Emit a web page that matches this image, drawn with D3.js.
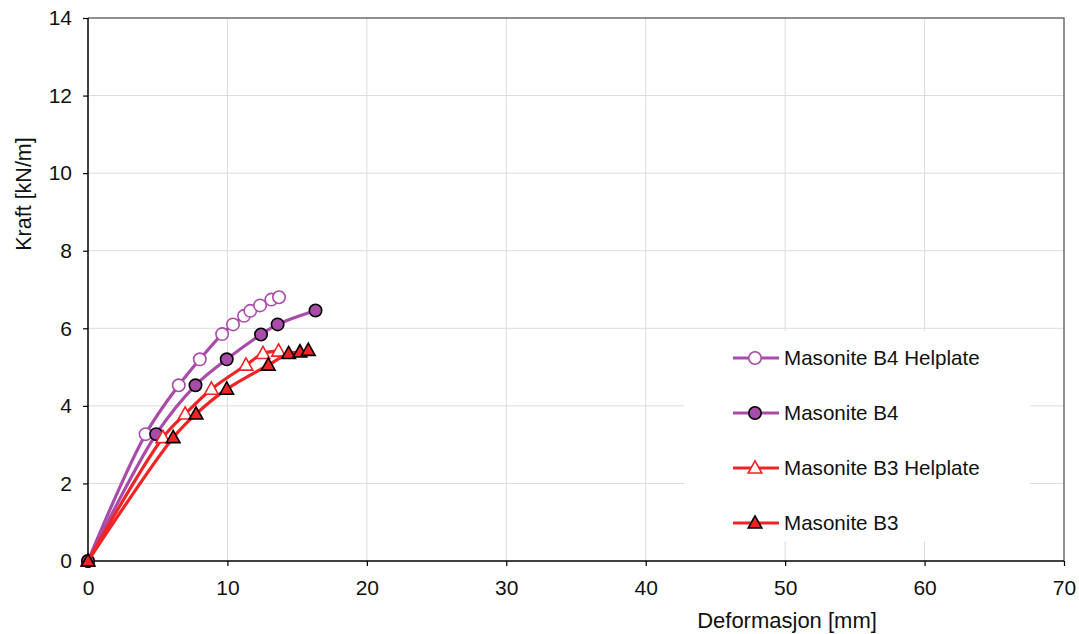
<!DOCTYPE html>
<html>
<head>
<meta charset="utf-8">
<script src="https://cdn.jsdelivr.net/npm/d3@7"></script>
<style>
    body { margin: 0; background: #fff; }
    svg text { font-family: "Liberation Sans", Arial, sans-serif; fill: #111; }
</style>
</head>
<body>
<svg id="chart"></svg>
<script>
// Deformasjon [mm], Kraft [kN/m]
let b4Helplate = [[0,0],[4.13,3.27],[6.51,4.53],[8.02,5.2],[9.62,5.85],[10.4,6.1],[11.19,6.32],[11.64,6.45],[12.34,6.59],[13.15,6.74],[13.7,6.8]];
let b4 = [[0,0],[4.89,3.27],[7.71,4.53],[9.95,5.2],[12.41,5.84],[13.6,6.1],[16.32,6.46]];
let b3Helplate = [[0,0],[5.37,3.18],[6.97,3.79],[8.85,4.43],[11.33,5.05],[12.55,5.35],[13.67,5.41]];
let b3 = [[0,0],[6.11,3.18],[7.75,3.79],[9.95,4.43],[12.93,5.05],[14.39,5.35],[15.2,5.39],[15.8,5.43]];

let seriesNames = ["Masonite B4 Helplate","Masonite B4","Masonite B3 Helplate","Masonite B3"];
let xTicks = [0,10,20,30,40,50,60,70];
let yTicks = [0,2,4,6,8,10,12,14];

let width = 1079,
    height = 634,
    pLeft = 88, pTop = 18, pRight = 1064, pBottom = 561,
    purple = "#a94ca9",
    red = "#f02424";

let svg = d3.select("#chart").attr("width",width).attr("height",height);

let xScale = d3.scaleLinear([0,70],[pLeft,pRight]),
    yScale = d3.scaleLinear([0,14],[pBottom,pTop]);

// grid
svg.append("g").selectAll("line.hg")
    .data(yTicks.filter(d => d>0 && d<14))
    .enter().append("line")
    .attr("x1",pLeft).attr("x2",pRight)
    .attr("y1",d => yScale(d)).attr("y2",d => yScale(d))
    .attr("stroke","#dcdcdc").attr("stroke-width",1);
svg.append("g").selectAll("line.vg")
    .data(xTicks.filter(d => d>0 && d<70))
    .enter().append("line")
    .attr("x1",d => xScale(d)).attr("x2",d => xScale(d))
    .attr("y1",pTop).attr("y2",pBottom)
    .attr("stroke","#dcdcdc").attr("stroke-width",1);

// top and right frame
svg.append("path")
    .attr("d","M"+pLeft+","+pTop+"H"+pRight+"V"+pBottom)
    .attr("fill","none").attr("stroke","#6e6e6e").attr("stroke-width",1.5);

// legend box (white, covers the grid)
let lgX = 684, lgY = 331;
svg.append("rect")
    .attr("x",lgX).attr("y",lgY).attr("width",346).attr("height",210)
    .attr("fill","#fff");

// axes
let xAxis = d3.axisBottom(xScale).tickValues(xTicks).tickSize(5).tickPadding(14).tickFormat(d3.format("d"));
let yAxis = d3.axisLeft(yScale).tickValues(yTicks).tickSize(5).tickPadding(11).tickFormat(d3.format("d"));
let gx = svg.append("g").attr("transform","translate(0,"+pBottom+")").call(xAxis);
let gy = svg.append("g").attr("transform","translate("+pLeft+",0)").call(yAxis);
[gx,gy].forEach(g => {
    g.select(".domain").attr("stroke","#000").attr("stroke-width",1.5);
    g.selectAll(".tick line").attr("stroke","#000").attr("stroke-width",1.2);
    g.selectAll(".tick text").attr("font-size",21).attr("fill","#111")
        .style("font-family","'Liberation Sans', Arial, sans-serif");
});
gx.select(".domain").attr("d","M"+pLeft+",0H"+pRight);
gy.select(".domain").attr("d","M0,"+pBottom+"V"+pTop);

// axis titles
svg.append("text")
    .attr("x",787).attr("y",628)
    .attr("text-anchor","middle").attr("font-size",22)
    .text("Deformasjon [mm]");
svg.append("text")
    .attr("transform","translate(31,194) rotate(-90)")
    .attr("text-anchor","middle").attr("font-size",21.5)
    .text("Kraft [kN/m]");

// series
let series = [
    {name:seriesNames[0], data:b4Helplate, color:purple, shape:"circle", fill:"#fff", stroke:purple},
    {name:seriesNames[1], data:b4, color:purple, shape:"circle", fill:purple, stroke:"#000"},
    {name:seriesNames[2], data:b3Helplate, color:red, shape:"triangle", fill:"#fff", stroke:red},
    {name:seriesNames[3], data:b3, color:red, shape:"triangle", fill:red, stroke:"#000"}
];

let line = d3.line()
    .x(d => xScale(d[0]))
    .y(d => yScale(d[1]))
    .curve(d3.curveCatmullRom.alpha(0.5));

function marker(g, s) {
    if (s.shape=="circle") {
        g.append("circle").attr("r",6.2);
    } else {
        g.append("path").attr("d","M0,-7.2L6.8,5L-6.8,5Z");
    }
    g.selectAll("circle,path")
        .attr("fill",s.fill).attr("stroke",s.stroke).attr("stroke-width",1.6);
}

series.forEach(s => {
    let g = svg.append("g");
    g.append("path")
        .attr("d",line(s.data))
        .attr("fill","none").attr("stroke",s.color).attr("stroke-width",3.2);
    g.selectAll("g.m")
        .data(s.data)
        .enter().append("g")
        .attr("transform",d => "translate("+xScale(d[0])+","+yScale(d[1])+")")
        .each(function(){ marker(d3.select(this), s); });
});

// legend
series.forEach((s,i) => {
    let y = 358 + i*55;
    let g = svg.append("g");
    g.append("line")
        .attr("x1",733).attr("x2",779).attr("y1",y).attr("y2",y)
        .attr("stroke",s.color).attr("stroke-width",3);
    let m = g.append("g").attr("transform","translate(755,"+y+")");
    marker(m, s);
    g.append("text")
        .attr("x",784).attr("y",y+7)
        .attr("font-size",20.6)
        .text(s.name);
});
</script>
</body>
</html>
